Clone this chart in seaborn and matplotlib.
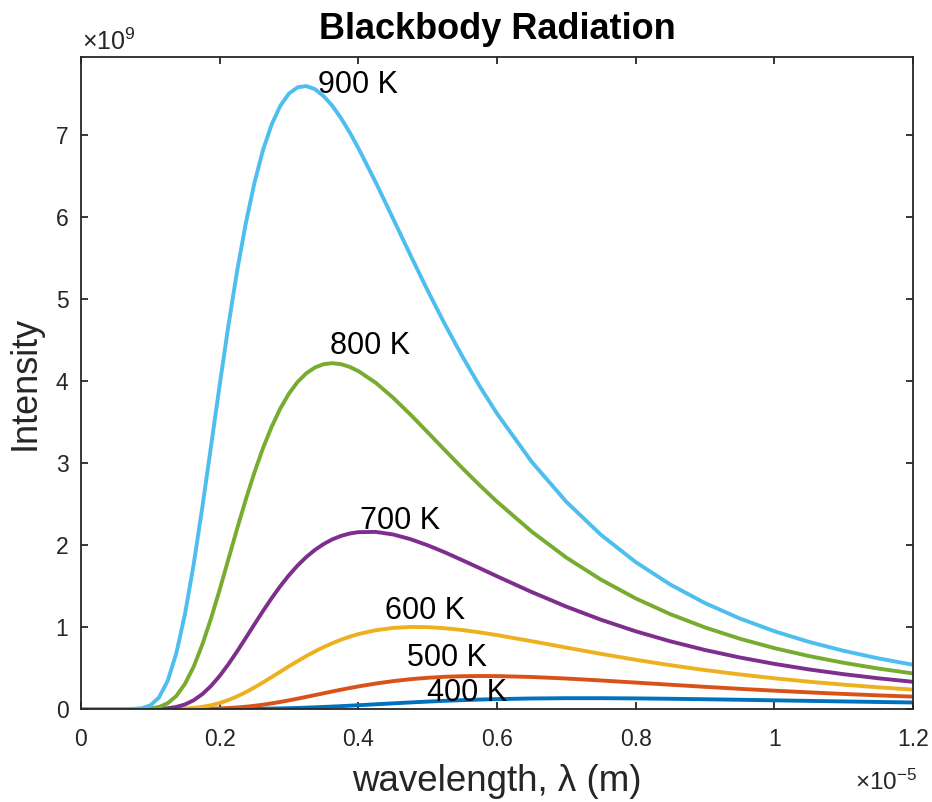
import matplotlib
matplotlib.use("Agg")
import matplotlib.pyplot as plt
import seaborn as sns
import pandas as pd

# wavelength in units of 1e-5 m
wavelength = [0, 0.05, 0.075, 0.0875, 0.1, 0.1125, 0.125, 0.1375, 0.15, 0.1625,
              0.175, 0.1875, 0.2, 0.2125, 0.225, 0.2375, 0.25, 0.2625, 0.275,
              0.2875, 0.3, 0.3125, 0.325, 0.3375, 0.35, 0.3625, 0.375, 0.3875,
              0.4, 0.425, 0.45, 0.475, 0.5, 0.525, 0.55, 0.575, 0.6, 0.65, 0.7,
              0.75, 0.8, 0.85, 0.9, 0.95, 1.0, 1.05, 1.1, 1.15, 1.2]

# intensity in units of 1e9
I400 = [0, 0, 0, 0, 0, 0, 0, 0, 0, 0, 0, 0, 0.0002, 0.0004, 0.0007, 0.0013,
        0.0022, 0.0034, 0.0050, 0.0070, 0.0096, 0.0126, 0.0161, 0.0201, 0.0245,
        0.0293, 0.0344, 0.0399, 0.0454, 0.0570, 0.0685, 0.0796, 0.0900, 0.0994,
        0.1075, 0.1145, 0.1202, 0.1279, 0.1314, 0.1314, 0.1288, 0.1243, 0.1186,
        0.1122, 0.1054, 0.0986, 0.0918, 0.0852, 0.0790]
I500 = [0, 0, 0, 0, 0, 0, 0, 0.0001, 0.0002, 0.0007, 0.0017, 0.0035, 0.0066,
        0.0114, 0.0181, 0.0271, 0.0384, 0.0521, 0.0679, 0.0857, 0.1051, 0.1258,
        0.1474, 0.1694, 0.1915, 0.2134, 0.2347, 0.2552, 0.2747, 0.3098, 0.3393,
        0.3628, 0.3803, 0.3924, 0.3994, 0.4020, 0.4009, 0.3900, 0.3711, 0.3475,
        0.3218, 0.2956, 0.2700, 0.2457, 0.2231, 0.2023, 0.1832, 0.1659, 0.1504]
I600 = [0, 0, 0, 0, 0, 0.0001, 0.0006, 0.0020, 0.0056, 0.0129, 0.0255, 0.0450,
        0.0726, 0.1085, 0.1526, 0.2040, 0.2616, 0.3238, 0.3885, 0.4546, 0.5202,
        0.5840, 0.6453, 0.7020, 0.7546, 0.8020, 0.8443, 0.8811, 0.9126, 0.9599,
        0.9882, 0.9998, 0.9976, 0.9843, 0.9623, 0.9340, 0.9008, 0.8266, 0.7485,
        0.6719, 0.5999, 0.5338, 0.4743, 0.4212, 0.3741, 0.3326, 0.2961, 0.2640,
        0.2358]
I700 = [0, 0, 0, 0, 0.0004, 0.0024, 0.0089, 0.0245, 0.0551, 0.1061, 0.1808,
        0.2801, 0.4024, 0.5440, 0.700, 0.8636, 1.030, 1.194, 1.351, 1.498, 1.631,
        1.750, 1.853, 1.940, 2.011, 2.068, 2.110, 2.139, 2.156, 2.159, 2.128,
        2.071, 1.996, 1.909, 1.814, 1.717, 1.618, 1.426, 1.248, 1.088, 0.947,
        0.825, 0.719, 0.628, 0.550, 0.482, 0.424, 0.374, 0.331]
I800 = [0, 0, 0, 0.0009, 0.0058, 0.0237, 0.0692, 0.1589, 0.306, 0.5154, 0.785,
        1.1024, 1.454, 1.823, 2.192, 2.548, 2.880, 3.180, 3.441, 3.664, 3.846,
        3.988, 4.093, 4.164, 4.204, 4.216, 4.204, 4.171, 4.120, 3.978, 3.796,
        3.591, 3.374, 3.154, 2.937, 2.728, 2.528, 2.163, 1.846, 1.577, 1.348,
        1.156, 0.994, 0.857, 0.742, 0.645, 0.563, 0.493, 0.433]
I900 = [0, 0, 0.0009, 0.0085, 0.0427, 0.1399, 0.342, 0.6793, 1.158, 1.763, 2.459,
        3.200, 3.948, 4.669, 5.332, 5.914, 6.409, 6.815, 7.127, 7.355, 7.504,
        7.580, 7.595, 7.557, 7.472, 7.354, 7.204, 7.031, 6.839, 6.423, 5.981,
        5.536, 5.102, 4.688, 4.299, 3.936, 3.602, 3.014, 2.526, 2.123, 1.791,
        1.517, 1.291, 1.104, 0.948, 0.818, 0.709, 0.617, 0.539]

temperatures = ["400 K", "500 K", "600 K", "700 K", "800 K", "900 K"]
series = [I400, I500, I600, I700, I800, I900]
colors = ["#0072BD", "#D95319", "#EDB120", "#7E2F8E", "#77AC30", "#4DBEEE"]

# label anchor (x, baseline y) in data units
label_x = [0.499, 0.470, 0.438, 0.402, 0.359, 0.342]
label_y = [0.098, 0.525, 1.10, 2.20, 4.33, 7.51]

xticks = [0, 0.2, 0.4, 0.6, 0.8, 1.0, 1.2]
xticklabels = ["0", "0.2", "0.4", "0.6", "0.8", "1", "1.2"]
yticks = [0, 1, 2, 3, 4, 5, 6, 7]

sns.set_style("white")
plt.rcParams["font.family"] = ["Liberation Sans", "DejaVu Sans"]
plt.rcParams["mathtext.fontset"] = "custom"
plt.rcParams["mathtext.rm"] = "Liberation Sans"
plt.rcParams["mathtext.it"] = "Liberation Sans:italic"
plt.rcParams["mathtext.bf"] = "Liberation Sans:bold"

rows = []
for t, vals in zip(temperatures, series):
    for w, v in zip(wavelength, vals):
        rows.append({"wavelength": w, "intensity": v, "T": t})
df = pd.DataFrame(rows)

fig = plt.figure(figsize=(9.32, 8.02), dpi=100)
ax = fig.add_axes([0.0869, 0.1160, 0.8927, 0.8130])

sns.lineplot(data=df, x="wavelength", y="intensity", hue="T",
             hue_order=temperatures, palette=colors, linewidth=2.8,
             sort=False, legend=False, ax=ax)

for t, lx, ly in zip(temperatures, label_x, label_y):
    ax.text(lx, ly, t, fontsize=22, color="black", ha="left", va="baseline")

ax.set_xlim(0, 1.2)
ax.set_ylim(0, 7.95)
ax.set_xticks(xticks)
ax.set_xticklabels(xticklabels)
ax.set_yticks(yticks)
ax.set_yticklabels([str(v) for v in yticks])

dark = "#262626"
for sp in ax.spines.values():
    sp.set_visible(True)
    sp.set_color(dark)
    sp.set_linewidth(1.3)
ax.tick_params(axis="both", which="both", direction="in", length=5, width=1.3,
               color=dark, labelcolor=dark, labelsize=16.5,
               top=True, right=True, bottom=True, left=True)
ax.tick_params(axis="x", pad=14)
ax.tick_params(axis="y", pad=9)

ax.set_xlabel("wavelength, λ (m)", fontsize=26.5, color=dark)
ax.xaxis.label.set_va("baseline")
ax.set_ylabel("Intensity", fontsize=26, color=dark)
ax.xaxis.set_label_coords(0.5, -0.1255)
ax.yaxis.set_label_coords(-0.046, 0.5)

ax.set_title("Blackbody Radiation", fontsize=26, fontweight="bold",
             color="black", pad=13)

ax.text(0.001, 1.0107, r"$\times10^{9}$", transform=ax.transAxes,
        fontsize=18, color=dark, ha="left", va="baseline")
ax.text(1.0048, -0.124, r"$\times10^{-5}$", transform=ax.transAxes,
        fontsize=17.5, color=dark, ha="right", va="baseline")

ax.grid(False)
fig.savefig("out.png", dpi=100, facecolor="white")
